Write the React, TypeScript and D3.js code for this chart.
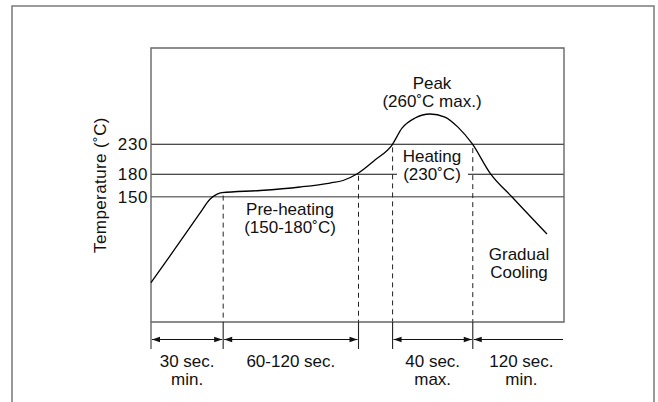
import React, { useEffect, useRef } from 'react';
import * as d3 from 'd3';

// schematic reflow profile: time (s, not to scale) and temperature (°C)
const profileTime = [0, 12, 24.4, 29.4, 33, 35.4, 54.4, 74.3, 89.3, 95.8, 102.7, 111.7, 120.2, 125.2, 131.7, 139.2, 146.6, 153.1, 160.1, 169.1, 180.1, 197.5];
const profileTemp = [47, 87.7, 130.2, 147, 153.5, 155.4, 158.3, 163, 168.3, 171.7, 180.5, 203.8, 228.8, 246, 256, 260, 257, 247, 230.8, 182, 149.6, 105.3];

const yTicks = [150, 180, 230];
// phase boundaries on the time axis
const phaseBounds = [0, 36, 103.5, 120.5, 160.5, 206];
const dashedBounds = [36, 103.5, 120.5, 160.5];
// dimension arrows: [from, to, headAtStart, headAtEnd]
const arrowSpans: [number, number, boolean, boolean][] = [
  [0, 36, true, true],
  [36, 103.5, true, true],
  [120.5, 160.5, true, true],
  [160.5, 206, true, false],
];
const spanLabels = [
  { from: 0, to: 36, lines: ['30 sec.', 'min.'] },
  { from: 36, to: 103.5, lines: ['60-120 sec.'] },
  { from: 120.5, to: 160.5, lines: ['40 sec.', 'max.'] },
  { from: 160.5, to: 206, lines: ['120 sec.', 'min.'] },
];

const W = 658;
const H = 402;

const App: React.FC = () => {
  const svgRef = useRef<SVGSVGElement>(null);

  useEffect(() => {
    if (!svgRef.current) return;
    const svg = d3.select(svgRef.current);
    svg.selectAll('*').remove();

    const font = '"Liberation Sans", Arial, Helvetica, sans-serif';
    const fs = 17;
    const left = 151, right = 564, top = 48, bottom = 322;

    const x = d3.scaleLinear().domain([0, 206]).range([left, right]);
    // the drawing is schematic, so the temperature axis is piecewise
    const y = d3.scaleLinear()
      .domain([0, 150, 180, 230, 260])
      .range([bottom, 196.7, 174.3, 144.3, 114]);

    const data = profileTime.map((t, i) => ({ t, v: profileTemp[i] }));
    const tempAt = (t: number) => {
      const i = d3.bisector((d: { t: number }) => d.t).right(data, t);
      const a = data[Math.max(0, i - 1)], b = data[Math.min(data.length - 1, i)];
      if (a === b) return a.v;
      return a.v + (b.v - a.v) * (t - a.t) / (b.t - a.t);
    };

    // outer frame
    svg.append('rect')
      .attr('x', 12).attr('y', 6)
      .attr('width', 642).attr('height', 430)
      .attr('fill', 'none')
      .attr('stroke', '#7a7a7a')
      .attr('stroke-width', 1.5);

    const g = svg.append('g').attr('font-family', font);

    // temperature lines
    yTicks.forEach(v => {
      g.append('line')
        .attr('x1', left).attr('x2', right)
        .attr('y1', y(v)).attr('y2', y(v))
        .attr('stroke', v === 150 ? '#777' : '#111')
        .attr('stroke-width', v === 150 ? 1.5 : 1.1);
      g.append('text')
        .attr('x', left - 3)
        .attr('y', y(v) + 6)
        .attr('text-anchor', 'end')
        .attr('font-size', fs)
        .attr('letter-spacing', 0.6)
        .attr('fill', '#111')
        .text(v);
    });

    // dashed phase boundaries, from the curve down to the base line
    dashedBounds.forEach(t => {
      g.append('line')
        .attr('x1', x(t)).attr('x2', x(t))
        .attr('y1', y(tempAt(t)) + 3).attr('y2', bottom)
        .attr('stroke', '#222')
        .attr('stroke-width', 1)
        .attr('stroke-dasharray', '5,4');
    });

    // plot box
    g.append('path')
      .attr('d', `M${left},${bottom + 27}V${top}H${right}V${bottom}H${left}`)
      .attr('fill', 'none')
      .attr('stroke', '#666')
      .attr('stroke-width', 1.4);

    // ticks under the box at phase bounds
    phaseBounds.slice(1, -1).forEach(t => {
      g.append('line')
        .attr('x1', x(t)).attr('x2', x(t))
        .attr('y1', bottom).attr('y2', bottom + 27)
        .attr('stroke', '#222')
        .attr('stroke-width', 1.1);
    });

    // dimension arrows
    const ay = bottom + 17.5;
    const head = (px: number, dir: number) =>
      `M${px},${ay}L${px - dir * 8},${ay - 2.8}L${px - dir * 8},${ay + 2.8}Z`;
    arrowSpans.forEach(([a, b, hs, he]) => {
      g.append('line')
        .attr('x1', x(a) + 1).attr('x2', x(b) - 1)
        .attr('y1', ay).attr('y2', ay)
        .attr('stroke', '#111').attr('stroke-width', 1.1);
      if (hs) g.append('path').attr('d', head(x(a) + 1, -1)).attr('fill', '#111');
      if (he) g.append('path').attr('d', head(x(b) - 1, 1)).attr('fill', '#111');
    });

    spanLabels.forEach(s => {
      s.lines.forEach((ln, i) => {
        g.append('text')
          .attr('x', (x(s.from) + x(s.to)) / 2 + (s.from === 160.5 ? 3 : 0))
          .attr('y', 366.5 + i * 18.5)
          .attr('text-anchor', 'middle')
          .attr('font-size', fs)
          .attr('fill', '#111')
          .text(ln);
      });
    });

    // white patch so the 180 line is broken by the heating label
    g.append('rect')
      .attr('x', 397).attr('y', 166)
      .attr('width', 71).attr('height', 18)
      .attr('fill', '#fff');

    // profile curve
    const line = d3.line<{ t: number; v: number }>()
      .x(d => x(d.t))
      .y(d => y(d.v))
      .curve(d3.curveMonotoneX);
    g.append('path')
      .datum(data)
      .attr('d', line)
      .attr('fill', 'none')
      .attr('stroke', '#000')
      .attr('stroke-width', 1.3);

    // annotations
    const notes = [
      { cx: 432, y0: 89, lines: ['Peak', '(260˚C max.)'] },
      { cx: 432, y0: 161.5, lines: ['Heating', '(230˚C)'] },
      { cx: 290, y0: 215, lines: ['Pre-heating', '(150-180˚C)'] },
      { cx: 519, y0: 260, lines: ['Gradual', 'Cooling'] },
    ];
    notes.forEach(n => {
      n.lines.forEach((ln, i) => {
        g.append('text')
          .attr('x', n.cx)
          .attr('y', n.y0 + i * 18)
          .attr('text-anchor', 'middle')
          .attr('font-size', fs)
          .attr('fill', '#111')
          .text(ln);
      });
    });

    // y axis title
    g.append('text')
      .attr('transform', `translate(106,185) rotate(-90)`)
      .attr('text-anchor', 'middle')
      .attr('font-size', fs)
      .attr('letter-spacing', 0.4)
      .attr('fill', '#111')
      .text('Temperature (˚C)');
  }, []);

  return (
    <svg
      ref={svgRef}
      width={W}
      height={H}
      style={{ position: 'absolute', left: 0, top: 0, background: '#fff' }}
    />
  );
};

export default App;
